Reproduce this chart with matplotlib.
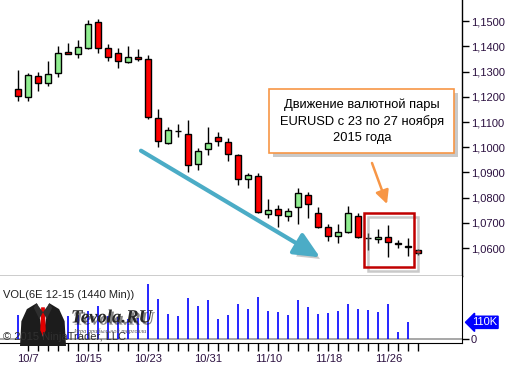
import numpy as np
import matplotlib.pyplot as plt
from matplotlib.patches import Rectangle, Polygon
from matplotlib.ticker import FuncFormatter
import matplotlib.patheffects as pe
import matplotlib.transforms as mtransforms

plt.rcParams['font.family'] = ['Liberation Sans', 'DejaVu Sans']

# daily EURUSD bars, 6 Oct .. 30 Nov 2015
opens = [1.1230, 1.1198, 1.1282, 1.1254, 1.1294, 1.1377, 1.1369, 1.1395, 1.1496, 1.1393,
         1.1373, 1.1340, 1.1357, 1.1349, 1.1115, 1.1016, 1.1064, 1.1052, 1.0933, 1.0993,
         1.1040, 1.1020, 1.0968, 1.0873, 1.0887, 1.0734, 1.0756, 1.0727, 1.0762, 1.0811,
         1.0738, 1.0685, 1.0648, 1.0663, 1.0729, 1.0642, 1.0635, 1.0645, 1.0620, 1.0607,
         1.0592]
highs = [1.1307, 1.1294, 1.1299, 1.1342, 1.1402, 1.1415, 1.1426, 1.1505, 1.1509, 1.1410,
         1.1393, 1.1402, 1.1389, 1.1365, 1.1152, 1.1079, 1.1091, 1.1108, 1.0996, 1.1081,
         1.1061, 1.1037, 1.0975, 1.0897, 1.0897, 1.0794, 1.0771, 1.0758, 1.0837, 1.0824,
         1.0762, 1.0696, 1.0696, 1.0767, 1.0738, 1.0661, 1.0675, 1.0692, 1.0632, 1.0639,
         1.0596]
lows = [1.1185, 1.1185, 1.1225, 1.1244, 1.1280, 1.1369, 1.1356, 1.1390, 1.1375, 1.1344,
        1.1316, 1.1336, 1.1344, 1.1111, 1.1002, 1.1012, 1.1040, 1.0903, 1.0909, 1.0971,
        1.1006, 1.0944, 1.0849, 1.0837, 1.0738, 1.0721, 1.0685, 1.0709, 1.0694, 1.0718,
        1.0679, 1.0629, 1.0619, 1.0659, 1.0641, 1.0592, 1.0619, 1.0566, 1.0599, 1.0569,
        1.0571]
closes = [1.1202, 1.1286, 1.1254, 1.1290, 1.1373, 1.1369, 1.1397, 1.1488, 1.1395, 1.1360,
          1.1341, 1.1357, 1.1349, 1.1119, 1.1025, 1.1067, 1.1066, 1.0929, 1.0984, 1.1016,
          1.1024, 1.0972, 1.0873, 1.0889, 1.0742, 1.0752, 1.0730, 1.0746, 1.0817, 1.0775,
          1.0685, 1.0648, 1.0663, 1.0738, 1.0645, 1.0640, 1.0643, 1.0623, 1.0618, 1.0605,
          1.0579]
# volume in thousands of contracts (last bar has none yet)
volume_k = [157, 170, 160, 175, 194, 150, 160, 183, 215, 150,
            145, 130, 140, 356, 263, 164, 151, 265, 215, 254,
            129, 157, 228, 196, 274, 185, 177, 157, 254, 211,
            166, 172, 185, 230, 196, 190, 177, 230, 49, 110]

tick_pos = [1, 7, 13, 19, 25, 31, 37]
tick_labels = ['10/7', '10/15', '10/23', '10/31', '11/10', '11/18', '11/26']
price_ticks = [1.06, 1.07, 1.08, 1.09, 1.10, 1.11, 1.12, 1.13, 1.14, 1.15]

note = 'Движение валютной пары\nEURUSD с 23 по 27 ноября\n2015 года'

W, H = 525, 370
fig = plt.figure(figsize=(W / 100, H / 100), dpi=100)
lab_col = '#2b1040'


def px_axes(x0, y0, x1, y1):
    # box in pixels, y counted from the top
    return fig.add_axes([x0 / W, 1 - y1 / H, (x1 - x0) / W, (y1 - y0) / H])


ax = px_axes(0, 0, 461.7, 276)
axv = px_axes(0, 276, 461.7, 342.7)

###############################################################################
# candles
n = len(opens)
for i in range(n):
    o, h, l, c = opens[i], highs[i], lows[i], closes[i]
    ax.vlines(i, l, h, color='black', lw=1.0, zorder=2)
    col = '#90ee90' if c >= o else '#ff0000'
    body = max(abs(c - o), 0.00008)
    ax.add_patch(Rectangle((i - 0.31, min(o, c)), 0.62, body, fc=col,
                           ec='black', lw=1.0, zorder=3))

ax.set_xlim(-1.83, 44.34)
ax.set_ylim(1.04893, 1.15845)
for s in ['top', 'left']:
    ax.spines[s].set_visible(False)
ax.spines['right'].set_linewidth(1.0)
ax.spines['bottom'].set_linewidth(1.0)
ax.set_xticks([])
ax.yaxis.tick_right()
ax.set_yticks(price_ticks)
ax.yaxis.set_major_formatter(FuncFormatter(lambda v, p: f'{v:.4f}'.replace('.', ',')))
ax.tick_params(axis='y', direction='out', length=5, width=1, labelsize=8,
               pad=1.5, labelcolor=lab_col)

###############################################################################
# volume
axv.axhline(0, color='#a0a0a0', lw=1.3, zorder=1)
axv.vlines(range(len(volume_k)), 0, volume_k, color='blue', lw=1.2, zorder=2)
axv.set_xlim(-1.83, 44.34)
axv.set_ylim(-22, 410)
axv.spines['left'].set_visible(False)
axv.spines['top'].set_visible(False)
axv.yaxis.tick_right()
axv.set_yticks([0])
axv.set_yticklabels(['0'])
axv.tick_params(axis='y', direction='out', length=5, width=1, labelsize=8,
                pad=1.5, labelcolor=lab_col)
axv.set_xticks(range(1, n))
axv.set_xticklabels([tick_labels[tick_pos.index(i)] if i in tick_pos else ''
                     for i in range(1, n)])
axv.tick_params(axis='x', direction='out', length=6, width=1, labelsize=8,
                pad=2, labelcolor=lab_col)

tr = mtransforms.blended_transform_factory(axv.transAxes, axv.transData)
axv.text(1.022, volume_k[-1], f'{volume_k[-1]}K', transform=tr, va='center',
         ha='left', fontsize=8, color='white', clip_on=False,
         bbox=dict(boxstyle='larrow,pad=0.1', fc='#0000ff', ec='#0000ff'))

fig.text(3 / W, 1 - 294.5 / H, 'VOL(6E 12-15 (1440 Min))', fontsize=8,
         color='#202020', va='center', ha='left')
fig.text(3 / W, 1 - 337 / H, '© 2015 NinjaTrader, LLC', fontsize=8,
         color='#303030', va='center', ha='left')

###############################################################################
# annotations
shadow = [pe.SimplePatchShadow(offset=(3, -3), shadow_rgbFace='#888888', alpha=0.45),
          pe.Normal()]
line_shadow = [pe.SimpleLineShadow(offset=(3, -3), shadow_color='#888888', alpha=0.45),
               pe.Normal()]

ax.annotate('', xy=(30.17, 1.05635), xytext=(12.27, 1.09865),
            arrowprops=dict(arrowstyle='-|>,head_width=0.6,head_length=1.3',
                            lw=3, color='#4bacc6', shrinkA=0, shrinkB=0,
                            mutation_scale=12, path_effects=shadow), zorder=4)

ax.annotate('', xy=(36.87, 1.0775), xytext=(35.37, 1.09377),
            arrowprops=dict(arrowstyle='-|>,head_width=0.4,head_length=0.8',
                            lw=1.8, color='#f79646', shrinkA=0, shrinkB=0,
                            mutation_scale=10), zorder=4)

ax.add_patch(Rectangle((34.57, 1.05238), 5.03, 1.07405 - 1.05238, fill=False,
                       ec='#c00000', lw=1.8, zorder=5, path_effects=line_shadow))

ax.add_patch(Rectangle((25.1, 1.09786), 18.5, 1.12313 - 1.09786, fc='white',
                       ec='#f79646', lw=1.2, zorder=6, path_effects=shadow))
ax.text(34.35, 1.1103, note, ha='center', va='center', fontsize=9.3,
        linespacing=1.42, color='black', zorder=7)

###############################################################################
# logo
lg = px_axes(20, 301, 66, 346)
lg.set_xlim(0, 1)
lg.set_ylim(0, 1)
lg.axis('off')
lg.add_patch(Polygon([(0.0, 0.0), (0.03, 0.55), (0.15, 0.82), (0.36, 0.95),
                      (0.5, 0.8), (0.64, 0.95), (0.85, 0.82), (0.97, 0.55),
                      (1.0, 0.0)], closed=True, fc='#1c1c1c', ec='none'))
lg.add_patch(Polygon([(0.38, 0.93), (0.62, 0.93), (0.5, 0.2)], closed=True,
                     fc='white', ec='none'))
lg.add_patch(Polygon([(0.46, 0.86), (0.54, 0.86), (0.56, 0.35), (0.5, 0.22),
                      (0.44, 0.35)], closed=True, fc='#e00000', ec='none'))
lg.add_patch(Polygon([(0.36, 0.95), (0.5, 0.75), (0.42, 0.6), (0.3, 0.85)],
                     closed=True, fc='#2e2e2e', ec='none'))
lg.add_patch(Polygon([(0.64, 0.95), (0.5, 0.75), (0.58, 0.6), (0.7, 0.85)],
                     closed=True, fc='#2e2e2e', ec='none'))

fig.text(71 / W, 1 - 318 / H, 'Tevola.RU', fontsize=13.5, family='Liberation Serif',
         weight='bold', style='italic', color='#262626', va='center', ha='left',
         path_effects=[pe.SimplePatchShadow(offset=(1.5, -1.5), alpha=0.5), pe.Normal()])
fig.text(73 / W, 1 - 331.5 / H, 'Игра прибыльной торговли', fontsize=4.5,
         family='Liberation Serif', style='italic', color='#555555', va='center',
         ha='left')

fig.savefig('out.png', dpi=100)
